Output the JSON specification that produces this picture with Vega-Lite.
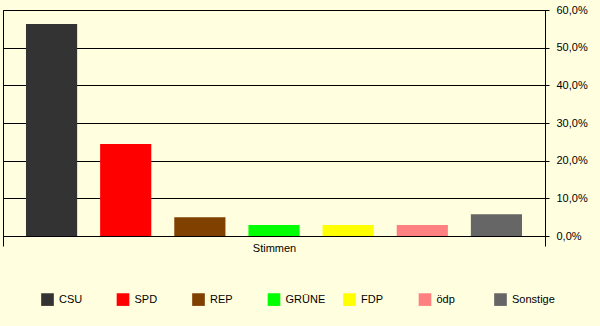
{
  "$schema": "https://vega.github.io/schema/vega-lite/v6.json",
  "width": 542,
  "height": 226,
  "autosize": {"type": "none"},
  "padding": {"left": 3, "top": 10, "right": 55, "bottom": 90},
  "background": "#FFFFE0",
  "config": {
    "view": {"stroke": "black", "strokeWidth": 1},
    "font": "Liberation Sans",
    "axis": {"labelFont": "Liberation Sans", "labelFontSize": 11, "labelColor": "black"},
    "legend": {"labelFont": "Liberation Sans", "labelFontSize": 11, "labelColor": "black"}
  },
  "data": {
    "values": [
      {"Kategorie": "Stimmen", "Partei": "CSU", "Anteil": 56.3},
      {"Kategorie": "Stimmen", "Partei": "SPD", "Anteil": 24.4},
      {"Kategorie": "Stimmen", "Partei": "REP", "Anteil": 5.0},
      {"Kategorie": "Stimmen", "Partei": "GRÜNE", "Anteil": 2.9},
      {"Kategorie": "Stimmen", "Partei": "FDP", "Anteil": 2.9},
      {"Kategorie": "Stimmen", "Partei": "ödp", "Anteil": 2.9},
      {"Kategorie": "Stimmen", "Partei": "Sonstige", "Anteil": 5.8}
    ]
  },
  "mark": {"type": "bar"},
  "encoding": {
    "x": {
      "field": "Kategorie",
      "type": "nominal",
      "scale": {"padding": 0},
      "axis": {
        "title": null,
        "labelAngle": 0,
        "domain": true,
        "domainColor": "black",
        "ticks": true,
        "tickColor": "black",
        "tickSize": 10,
        "tickBand": "extent",
        "labelPadding": -4,
        "grid": false
      }
    },
    "xOffset": {
      "field": "Partei",
      "type": "nominal",
      "sort": ["CSU", "SPD", "REP", "GRÜNE", "FDP", "ödp", "Sonstige"],
      "scale": {"paddingInner": 0.31, "paddingOuter": 0.31}
    },
    "y": {
      "field": "Anteil",
      "type": "quantitative",
      "scale": {"domain": [0, 60], "nice": false},
      "axis": {
        "orient": "right",
        "title": null,
        "values": [0, 10, 20, 30, 40, 50, 60],
        "labelExpr": "replace(format(datum.value, '.1f'), '.', ',') + '%'",
        "grid": true,
        "gridColor": "black",
        "gridOpacity": 1,
        "domainColor": "black",
        "tickColor": "black",
        "tickSize": 4,
        "labelPadding": 7
      }
    },
    "color": {
      "field": "Partei",
      "type": "nominal",
      "scale": {
        "domain": ["CSU", "SPD", "REP", "GRÜNE", "FDP", "ödp", "Sonstige"],
        "range": ["#333333", "#FF0000", "#804000", "#00FF00", "#FFFF00", "#FF8080", "#666666"]
      },
      "legend": {
        "title": null,
        "orient": "none",
        "legendX": 38,
        "legendY": 283,
        "direction": "horizontal",
        "columns": 7,
        "gridAlign": "all",
        "columnPadding": 14.5,
        "symbolType": "square",
        "symbolSize": 160,
        "symbolStrokeWidth": 0,
        "symbolOpacity": 1,
        "labelOffset": 5
      }
    }
  }
}
